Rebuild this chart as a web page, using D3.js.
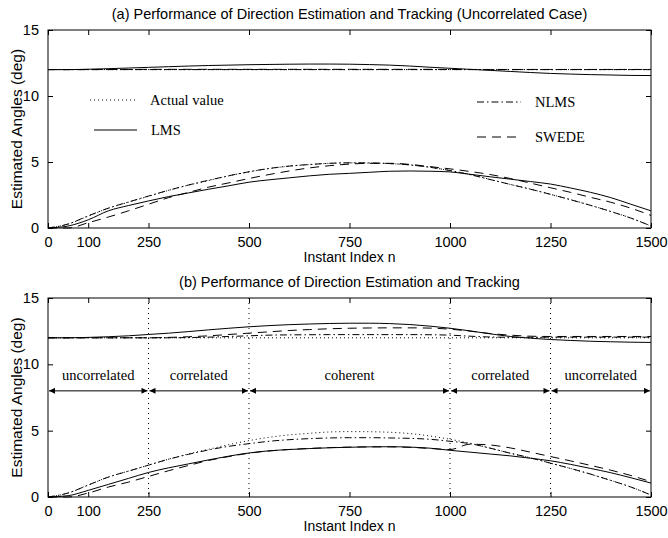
<html lang="en">
<head>
<meta charset="utf-8">
<title>Direction Estimation and Tracking</title>
<script src="https://d3js.org/d3.v7.min.js"></script>
<style>
  body { margin: 0; background: #fff; }
  svg { display: block; }
  .frame { fill: none; stroke: #000; stroke-width: 1; }
  .title { font-family: "Liberation Sans", Arial, sans-serif; font-size: 14.5px; fill: #000; }
  .axis-lbl { font-family: "Liberation Sans", Arial, sans-serif; font-size: 14px; fill: #000; }
  .y-lbl { font-family: "Liberation Sans", Arial, sans-serif; font-size: 15.5px; fill: #000; }
  .serif { font-family: "Liberation Serif", "Times New Roman", serif; font-size: 14.5px; fill: #000; }
  .curve { fill: none; stroke: #000; stroke-width: 1; }
</style>
</head>
<body>
<svg id="chart" width="668" height="538"></svg>
<script>
// sample index grid, every 50 samples
var nGrid = d3.range(0, 1501, 50);
var xTicks = [0, 100, 250, 500, 750, 1000, 1250, 1500];
var yTicks = [0, 5, 10, 15];

// true trajectories (same in both experiments)
var actualHigh = nGrid.map(function () { return 12; });
var actualLow = [0, 0.3, 0.9, 1.5, 1.95, 2.4, 2.85, 3.25, 3.6, 3.95, 4.25, 4.5, 4.68, 4.8, 4.9, 4.93,
  4.92, 4.88, 4.78, 4.6, 4.35, 4.05, 3.68, 3.3, 2.95, 2.55, 2.15, 1.72, 1.25, 0.75, 0.15];

// (a) uncorrelated case
var aLmsHigh = [12, 12, 12.03, 12.07, 12.12, 12.17, 12.22, 12.27, 12.31, 12.34, 12.37, 12.39, 12.41, 12.42, 12.42, 12.41,
  12.38, 12.34, 12.27, 12.18, 12.1, 12.02, 11.94, 11.86, 11.78, 11.71, 11.66, 11.62, 11.59, 11.56, 11.55];
var aLmsLow = [0, 0.15, 0.62, 1.3, 1.7, 2.05, 2.38, 2.66, 2.94, 3.2, 3.47, 3.65, 3.8, 3.95, 4.07, 4.14,
  4.22, 4.3, 4.32, 4.3, 4.25, 4.07, 3.88, 3.7, 3.52, 3.33, 3.03, 2.7, 2.3, 1.8, 1.3];
var aNlmsHigh = [12, 12, 12, 12, 12, 12, 12, 12, 12, 12, 12, 12, 12, 12, 12, 12,
  12, 12, 12, 12, 12, 12, 12, 12, 12, 12, 12, 12, 12, 12, 12];
var aNlmsLow = [0, 0.3, 0.92, 1.5, 1.97, 2.42, 2.86, 3.26, 3.62, 3.96, 4.26, 4.51, 4.69, 4.81, 4.9, 4.94,
  4.93, 4.88, 4.78, 4.6, 4.35, 4.04, 3.67, 3.3, 2.94, 2.55, 2.14, 1.71, 1.25, 0.75, 0.15];
var aSwedeHigh = [12, 12, 12, 12.01, 12.01, 12.02, 12.02, 12.02, 12.02, 12.02, 12.02, 12.02, 12.02, 12.02, 12.02, 12.02,
  12.02, 12.02, 12.02, 12.02, 12.01, 12.01, 12.01, 12.01, 12.01, 12.01, 12.01, 12.01, 12.01, 12.01, 12.01];
var aSwedeLow = [0, 0, 0.4, 0.83, 1.3, 1.8, 2.3, 2.7, 3.1, 3.42, 3.75, 4.05, 4.32, 4.55, 4.72, 4.84,
  4.9, 4.9, 4.82, 4.65, 4.48, 4.28, 4.05, 3.75, 3.4, 3.05, 2.7, 2.32, 1.95, 1.5, 0.95];

// (b) changing correlation
var bLmsHigh = [12, 12, 12.03, 12.08, 12.15, 12.25, 12.35, 12.47, 12.6, 12.72, 12.83, 12.92, 12.99, 13.04, 13.08, 13.1,
  13.1, 13.07, 13.0, 12.88, 12.72, 12.52, 12.3, 12.1, 11.97, 11.87, 11.8, 11.74, 11.7, 11.67, 11.65];
var bLmsLow = [0, 0.1, 0.5, 0.95, 1.4, 1.85, 2.2, 2.5, 2.8, 3.08, 3.32, 3.48, 3.58, 3.65, 3.71, 3.75,
  3.78, 3.79, 3.76, 3.68, 3.52, 3.38, 3.24, 3.1, 2.92, 2.73, 2.46, 2.15, 1.83, 1.45, 1.05];
var bNlmsHigh = [12, 12, 12, 12, 12, 12, 12, 12.02, 12.05, 12.1, 12.15, 12.2, 12.22, 12.23, 12.24, 12.24,
  12.24, 12.24, 12.24, 12.23, 12.2, 12.12, 12.06, 12.04, 12.04, 12.05, 12.05, 12.05, 12.05, 12.05, 12.05];
var bNlmsLow = [0, 0.3, 0.9, 1.5, 1.95, 2.4, 2.85, 3.22, 3.55, 3.82, 4.02, 4.2, 4.32, 4.4, 4.45, 4.47,
  4.47, 4.45, 4.42, 4.35, 4.2, 4.02, 3.68, 3.3, 2.95, 2.55, 2.15, 1.72, 1.25, 0.75, 0.15];
var bSwedeHigh = [12, 12, 12, 12, 12, 12, 12.03, 12.08, 12.15, 12.25, 12.35, 12.45, 12.55, 12.62, 12.68, 12.72,
  12.74, 12.75, 12.75, 12.73, 12.65, 12.5, 12.32, 12.2, 12.12, 12.1, 12.1, 12.1, 12.1, 12.1, 12.1];
var bSwedeLow = [0, 0, 0.3, 0.75, 1.12, 1.55, 1.98, 2.38, 2.76, 3.05, 3.3, 3.47, 3.58, 3.66, 3.72, 3.76,
  3.78, 3.78, 3.74, 3.66, 3.58, 3.98, 3.92, 3.7, 3.38, 3.05, 2.72, 2.38, 2.02, 1.62, 1.15];

// regimes in experiment (b)
var regimeBounds = [0, 250, 500, 1000, 1250, 1500];
var regimeNames = ["uncorrelated", "correlated", "coherent", "correlated", "uncorrelated"];
var regimeY = 8;

var styles = {
  actual: "1,3",
  lms: null,
  nlms: "7,3,1.5,3",
  swede: "9,6"
};

var svg = d3.select("#chart");
var defs = svg.append("defs");
["start", "end"].forEach(function (k) {
  defs.append("marker")
    .attr("id", "arrow-" + k)
    .attr("viewBox", "0 0 10 10")
    .attr("refX", 10).attr("refY", 5)
    .attr("markerWidth", 9).attr("markerHeight", 6)
    .attr("markerUnits", "userSpaceOnUse")
    .attr("orient", k == "end" ? "auto" : "auto-start-reverse")
    .append("path").attr("d", "M0,0L10,5L0,10Z").attr("fill", "#000");
});

var left = 48, right = 651;
var x = d3.scaleLinear().domain([0, 1500]).range([left, right]);

function drawPanel(top, bottom, title, series, regimes) {
  var y = d3.scaleLinear().domain([0, 15]).range([bottom, top]);
  var g = svg.append("g");

  // curves
  var line = d3.line()
    .x(function (d) { return x(d[0]); })
    .y(function (d) { return y(d[1]); })
    .curve(d3.curveMonotoneX);
  series.forEach(function (s) {
    g.append("path")
      .attr("class", "curve")
      .attr("d", line(nGrid.map(function (n, i) { return [n, s.values[i]]; })))
      .attr("stroke-dasharray", styles[s.style]);
  });

  if (regimes) {
    regimeBounds.slice(1, -1).forEach(function (b) {
      g.append("line")
        .attr("x1", x(b)).attr("x2", x(b))
        .attr("y1", top).attr("y2", bottom)
        .attr("stroke", "#000").attr("stroke-width", 1)
        .attr("stroke-dasharray", "1,4");
    });
    regimeNames.forEach(function (name, i) {
      var a = regimeBounds[i], b = regimeBounds[i + 1];
      g.append("line")
        .attr("x1", x(a) + 1).attr("x2", x(b) - 1)
        .attr("y1", y(regimeY)).attr("y2", y(regimeY))
        .attr("stroke", "#000").attr("stroke-width", 1)
        .attr("marker-start", "url(#arrow-start)")
        .attr("marker-end", "url(#arrow-end)");
      g.append("text")
        .attr("class", "serif")
        .attr("x", x((a + b) / 2))
        .attr("y", y(regimeY) - 11)
        .attr("text-anchor", "middle")
        .text(name);
    });
  }

  // frame and inward ticks
  g.append("rect").attr("class", "frame")
    .attr("x", left).attr("y", top)
    .attr("width", right - left).attr("height", bottom - top);

  var tl = 5;
  g.append("g").attr("transform", "translate(0," + bottom + ")")
    .call(d3.axisBottom(x).tickValues(xTicks).tickSize(-tl).tickPadding(9).tickFormat(d3.format("d")))
    .call(styleAxis);
  g.append("g").attr("transform", "translate(0," + top + ")")
    .call(d3.axisTop(x).tickValues(xTicks).tickSize(-tl).tickFormat(""))
    .call(styleAxis);
  g.append("g").attr("transform", "translate(" + left + ",0)")
    .call(d3.axisLeft(y).tickValues(yTicks).tickSize(-tl).tickPadding(9))
    .call(styleAxis);
  g.append("g").attr("transform", "translate(" + right + ",0)")
    .call(d3.axisRight(y).tickValues(yTicks).tickSize(-tl).tickFormat(""))
    .call(styleAxis);

  g.append("text").attr("class", "title")
    .attr("x", (left + right) / 2).attr("y", top - 11)
    .attr("text-anchor", "middle").text(title);
  g.append("text").attr("class", "axis-lbl")
    .attr("x", (left + right) / 2).attr("y", bottom + 34)
    .attr("text-anchor", "middle").text("Instant Index n");
  g.append("text").attr("class", "y-lbl")
    .attr("transform", "translate(22," + (top + bottom) / 2 + ") rotate(-90)")
    .attr("text-anchor", "middle").text("Estimated Angles (deg)");

  return y;
}

function styleAxis(sel) {
  sel.select(".domain").remove();
  sel.selectAll(".tick line").attr("stroke", "#000");
  sel.selectAll(".tick text")
    .attr("fill", "#000")
    .style("font-family", "'Liberation Sans', Arial, sans-serif")
    .style("font-size", "14.5px");
}

drawPanel(30, 228, "(a) Performance of Direction Estimation and Tracking (Uncorrelated Case)", [
  {values: actualHigh, style: "actual"}, {values: actualLow, style: "actual"},
  {values: aNlmsHigh, style: "nlms"}, {values: aNlmsLow, style: "nlms"},
  {values: aSwedeHigh, style: "swede"}, {values: aSwedeLow, style: "swede"},
  {values: aLmsHigh, style: "lms"}, {values: aLmsLow, style: "lms"}
], false);

drawPanel(298, 497, "(b) Performance of Direction Estimation and Tracking", [
  {values: actualHigh, style: "actual"}, {values: actualLow, style: "actual"},
  {values: bNlmsHigh, style: "nlms"}, {values: bNlmsLow, style: "nlms"},
  {values: bSwedeHigh, style: "swede"}, {values: bSwedeLow, style: "swede"},
  {values: bLmsHigh, style: "lms"}, {values: bLmsLow, style: "lms"}
], true);

// legend (top panel)
var legend = [
  {label: "Actual value", style: "actual", x0: 90, x1: 136, y: 100},
  {label: "LMS", style: "lms", x0: 94, x1: 137, y: 130},
  {label: "NLMS", style: "nlms", x0: 477, x1: 521, y: 102},
  {label: "SWEDE", style: "swede", x0: 477, x1: 521, y: 137}
];
legend.forEach(function (d) {
  svg.append("line")
    .attr("x1", d.x0).attr("x2", d.x1).attr("y1", d.y).attr("y2", d.y)
    .attr("stroke", "#000").attr("stroke-width", 1)
    .attr("stroke-dasharray", styles[d.style]);
  svg.append("text").attr("class", "serif")
    .attr("x", d.x1 + 14).attr("y", d.y + 5).text(d.label);
});
</script>
</body>
</html>
